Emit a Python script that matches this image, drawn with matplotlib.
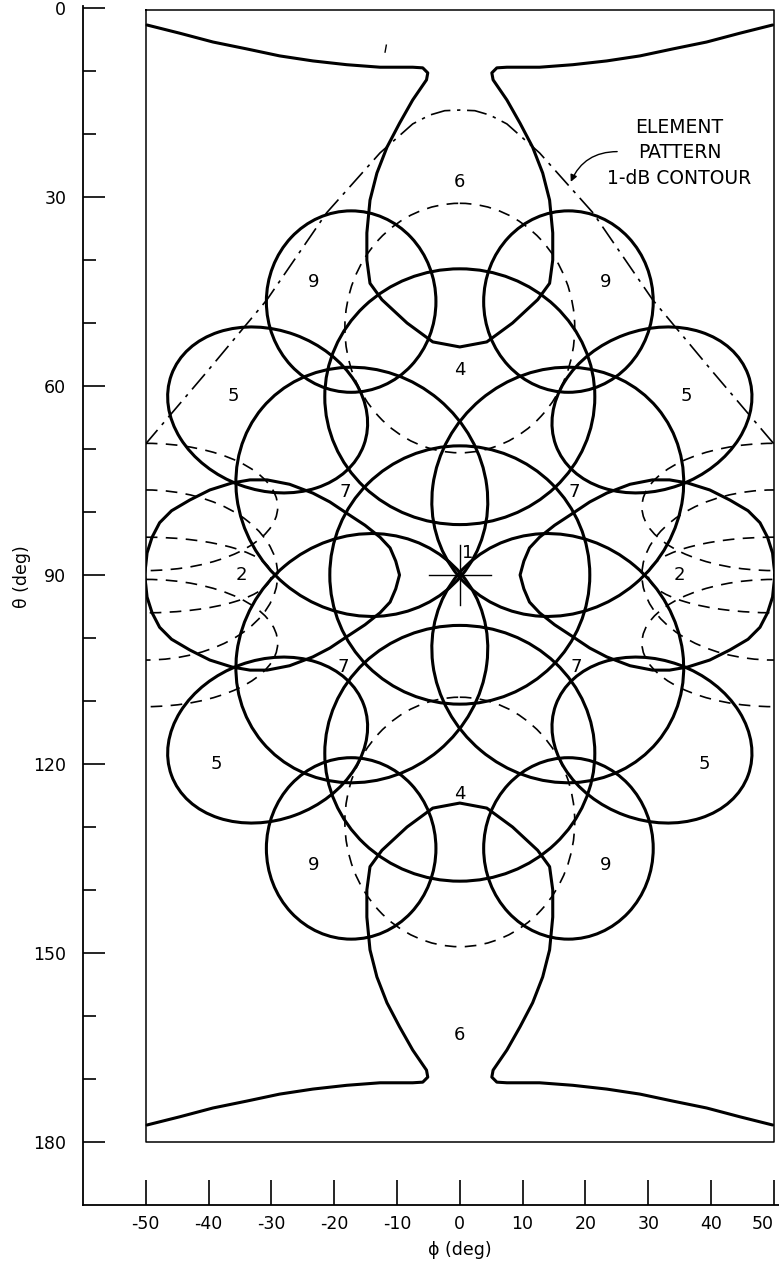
import numpy as np
import matplotlib
matplotlib.use("Agg")
import matplotlib.pyplot as plt
from matplotlib.patches import Ellipse, Rectangle

plt.rcParams['font.family'] = ['DejaVu Sans']

# ---------------- data (phi, theta in degrees) ----------------
phi_ticks = [-50, -40, -30, -20, -10, 0, 10, 20, 30, 40, 50]
phi_ticklabels = ['-50', '-40', '-30', '-20', '-10', '0', '10', '20', '30', '40', '50']
theta_major = [0, 30, 60, 90, 120, 150, 180]
theta_minor = [10, 20, 40, 50, 70, 80, 100, 110, 130, 140, 160, 170]

# beam 6 contour (left half, top); right half and bottom are mirror images
b6_phi = [-49.8, -44.6, -39.3, -33.9, -28.7, -23.4, -18.0, -12.7, -7.5, -5.9, -5.1, -5.3,
          -7.5, -9.6, -11.6, -13.2, -14.3, -14.8, -14.8, -14.3, -12.4, -8.4, -4.3, 0.0]
b6_theta = [2.7, 4.0, 5.4, 6.5, 7.6, 8.4, 9.0, 9.4, 9.4, 9.5, 10.3, 11.4,
            14.6, 18.3, 22.1, 26.2, 30.5, 35.7, 40.0, 43.7, 46.3, 50.0, 53.0, 53.8]

# beam 2 contour (left beam, upper half); lower half and right beam are mirror images
b2_phi = [-50.2, -50.0, -49.8, -49.0, -47.8, -45.9, -43.0, -39.8, -36.3, -33.4, -30.7,
          -27.1, -23.4, -20.7, -18.0, -15.1, -12.7, -11.1, -10.2, -9.6]
b2_theta = [90.0, 88.4, 86.5, 84.0, 81.7, 79.8, 78.1, 76.5, 75.4, 74.9, 74.9,
            75.6, 77.0, 78.4, 80.2, 82.1, 84.0, 85.7, 87.8, 90.0]

# element pattern 1-dB contour (left half)
elem_phi = [-50.2, -40.4, -30.7, -21.2, -12.7, -7.5, -4.8, -2.4, 0.0]
elem_theta = [69.4, 57.9, 46.3, 32.5, 23.0, 18.4, 17.0, 16.3, 16.2]

# elliptical beam contours: centre phi, centre theta, width, height, angle
ell_phi = [-17.3, 17.3, -17.3, 17.3,          # beams 9
           -30.6, 30.6, -30.6, 30.6,          # beams 5
           0.0, 0.0,                          # beams 4
           -15.6, 15.6, -15.6, 15.6,          # beams 7
           0.0]                               # beam 1
ell_theta = [46.6, 46.6, 133.4, 133.4,
             63.8, 63.8, 116.2, 116.2,
             61.7, 118.3,
             76.8, 76.8, 103.2, 103.2,
             90.0]
ell_w = [27.0, 27.0, 27.0, 27.0,
         32.6, 32.6, 32.6, 32.6,
         43.0, 43.0,
         41.4, 41.4, 41.4, 41.4,
         41.4]
ell_h = [28.8, 28.8, 28.8, 28.8,
         25.4, 25.4, 25.4, 25.4,
         40.6, 40.6,
         38.2, 38.2, 38.2, 38.2,
         41.0]
ell_ang = [0, 0, 0, 0,
           20, -20, -20, 20,
           0, 0,
           40, -40, -40, 40,
           0]

# dashed contours (centre phi, centre theta, width, height)
dash_phi = [0.0, 0.0,
            -50.0, -50.0, -50.0, -50.0,
            50.0, 50.0, 50.0, 50.0]
dash_theta = [50.8, 129.2,
              79.2, 100.8, 90.0, 90.0,
              79.2, 100.8, 90.0, 90.0]
dash_w = [36.6, 36.6,
          42.0, 42.0, 42.0, 40.0,
          42.0, 42.0, 42.0, 40.0]
dash_h = [39.6, 39.6,
          20.2, 20.2, 27.0, 12.0,
          20.2, 20.2, 27.0, 12.0]

# region labels
lab_text = ['6', '9', '9', '4', '5', '5', '7', '7', '2', '2', '1', '7', '7', '5', '5', '4', '9', '9', '6']
lab_phi = [0, -23.2, 23.2, 0, -36.0, 36.0, -18.3, 18.3, -34.8, 35.0, 1.2, -18.6, 18.6,
           -38.8, 39.0, 0, -23.2, 23.2, 0]
lab_theta = [27.6, 43.5, 43.5, 57.5, 61.6, 61.6, 76.8, 76.8, 90.0, 90.0, 86.5, 104.6, 104.6,
             120.0, 120.0, 124.8, 136.0, 136.0, 163.0]

# ---------------- figure ----------------
W, H = 779, 1270
fig = plt.figure(figsize=(W / 100, H / 100), dpi=100)
x_left, x_right = 83, 779
y_top, y_bot = 6, 1205
ax = fig.add_axes([x_left / W, (H - y_bot) / H, (x_right - x_left) / W, (y_bot - y_top) / H])
px_per_deg_x = 6.28
px_per_deg_y = 6.3
ax.set_xlim(-60, -60 + (x_right - x_left) / px_per_deg_x)
ax.set_ylim(190, 190 - (y_bot - y_top) / px_per_deg_y)

for s in ['top', 'right']:
    ax.spines[s].set_visible(False)
for s in ['left', 'bottom']:
    ax.spines[s].set_linewidth(1.3)

ax.set_xticks(phi_ticks)
ax.set_xticklabels(phi_ticklabels)
ax.set_yticks(theta_major)
ax.set_yticklabels([str(t) for t in theta_major])
ax.set_yticks(theta_minor, minor=True)
ax.tick_params(axis='x', direction='in', length=18, width=1.2, pad=7, labelsize=12.5)
ax.tick_params(axis='y', which='major', direction='in', length=16, width=1.2, pad=12, labelsize=12.5)
ax.tick_params(axis='y', which='minor', direction='in', length=9.5, width=1.2)
last = ax.get_xticklabels()[-1]
last.set_horizontalalignment('right')
last.set_x(51.3)

lw_c = 2.2
clip = Rectangle((-50, 0), 100, 180, transform=ax.transData)

# box
ax.plot([-50, 50, 50, -50, -50], [0.3, 0.3, 180, 180, 0.3], color='k', lw=1.1)

# beam 6 (top and bottom)
p6 = np.array(b6_phi)
t6 = np.array(b6_theta)
full_phi = np.concatenate([p6, -p6[::-1]])
full_theta = np.concatenate([t6, t6[::-1]])
ax.plot(full_phi, full_theta, color='k', lw=lw_c, solid_capstyle='round')
ax.plot(full_phi, 180 - full_theta, color='k', lw=lw_c, solid_capstyle='round')

# beam 2 (left and right), closed egg shapes
p2 = np.array(b2_phi)
t2 = np.array(b2_theta)
c2_phi = np.concatenate([p2, p2[::-1]])
c2_theta = np.concatenate([t2, 180 - t2[::-1]])
for sgn in (1, -1):
    ln, = ax.plot(sgn * c2_phi, c2_theta, color='k', lw=lw_c, solid_joinstyle='round')
    ln.set_clip_path(clip)

# ellipses
for cp, ct, w, h, a in zip(ell_phi, ell_theta, ell_w, ell_h, ell_ang):
    e = Ellipse((cp, ct), w, h, angle=a, fill=False, edgecolor='k', lw=lw_c)
    ax.add_patch(e)
    e.set_clip_path(clip)

# dashed
for cp, ct, w, h in zip(dash_phi, dash_theta, dash_w, dash_h):
    e = Ellipse((cp, ct), w, h, fill=False, edgecolor='k', lw=1.2, linestyle=(0, (7, 5)))
    ax.add_patch(e)
    e.set_clip_path(clip)

# element pattern contour (dash-dot)
pe = np.array(elem_phi)
te = np.array(elem_theta)
ln, = ax.plot(np.concatenate([pe, -pe[::-1]]), np.concatenate([te, te[::-1]]),
              color='k', lw=1.2, linestyle=(0, (12, 4, 2, 4)))
ln.set_clip_path(clip)

# cross at centre
ax.plot([-4.9, 4.9], [90, 90], color='k', lw=1.0)
ax.plot([0, 0], [85.2, 94.8], color='k', lw=1.0)

# small stray mark near the top
ax.plot([-11.7, -11.9], [5.9, 7.0], color='k', lw=1.0)

# labels
for t, p, th in zip(lab_text, lab_phi, lab_theta):
    ax.text(p, th, t, ha='center', va='center', fontsize=13)

# annotation
ax.text(35.0, 23.0, 'ELEMENT\nPATTERN\n1-dB CONTOUR', ha='center', va='center',
        fontsize=13.5, linespacing=1.45)
ax.annotate('', xy=(17.5, 28.0), xytext=(25.5, 22.8),
            arrowprops=dict(arrowstyle='-|>', color='k', lw=1.0,
                            connectionstyle='arc3,rad=0.35', mutation_scale=10))

fig.text(22 / W, 1 - 577 / H, 'θ (deg)', rotation=90, ha='center', va='center', fontsize=12.5)
fig.text(460 / W, 1 - 1250 / H, 'ϕ (deg)', ha='center', va='center', fontsize=12.5)

fig.savefig('out.png', dpi=100)
